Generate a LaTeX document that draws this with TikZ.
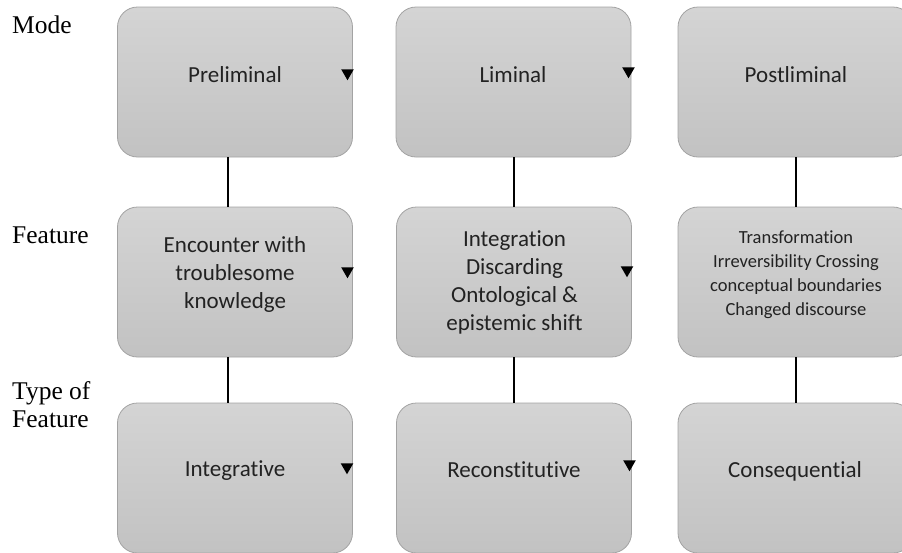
\documentclass[tikz,border=0pt]{standalone}
\usepackage{fontspec}
\setmainfont{Liberation Serif}
\newfontfamily\boxfont[Ligatures={NoCommon}]{Carlito}
\usetikzlibrary{shapes.geometric}
\definecolor{boxtop}{HTML}{D4D4D4}
\definecolor{boxbot}{HTML}{C2C2C2}
\definecolor{boxborder}{HTML}{A3A3A3}
\definecolor{boxtext}{HTML}{222222}
\begin{document}
\begin{tikzpicture}[x=1pt,y=-1pt,
  box/.style={draw=boxborder, line width=0.8pt, rounded corners=20pt,
    top color=boxtop, bottom color=boxbot,
    minimum width=235pt, minimum height=150pt, inner sep=0pt, outer sep=0pt},
  btext/.style={font=\boxfont\fontsize{23}{28}\selectfont, text=boxtext, inner sep=0pt, align=center},
  stext/.style={font=\boxfont\fontsize{18.5}{24}\selectfont, text=boxtext, inner sep=0pt, align=center},
  lbl/.style={font=\fontsize{25.5}{28}\selectfont, text=black, inner sep=0pt, anchor=base west, align=left},
  tri/.style={regular polygon, regular polygon sides=3, shape border rotate=180,
    fill=black, inner sep=0pt, minimum size=14.5pt},
  conn/.style={draw=black, line width=2.2pt}]
\useasboundingbox (0,0) rectangle (902,552);

% boxes
\node[box] (b11) at (235,82) {};
\node[box] (b12) at (513.5,82) {};
\node[box] (b13) at (795.5,82) {};
\node[box] (b21) at (235,282) {};
\node[box] (b22) at (514,282) {};
\node[box] (b23) at (795.5,282) {};
\node[box] (b31) at (235,478) {};
\node[box] (b32) at (514,478) {};
\node[box] (b33) at (795.5,478) {};

% texts
\node[btext, anchor=base] (x11) at (235,82) {Preliminal};
\node[btext, anchor=base] (x12) at (513,82) {Liminal};
\node[btext, anchor=base] (x13) at (796,82) {Postliminal};
\node[btext] (x21) at (235,274) {Encounter with\\troublesome\\knowledge};
\node[btext] (x22) at (514.5,282) {Integration\\Discarding\\Ontological \&\\epistemic shift};
\node[stext] (x23) at (796,275) {Transformation\\Irreversibility Crossing\\conceptual boundaries\\Changed discourse};
\node[btext, anchor=base] (x31) at (235,476) {Integrative};
\node[btext, anchor=base] (x32) at (514,477) {Reconstitutive};
\node[btext, anchor=base] (x33) at (795,477) {Consequential};

% triangles
\node[tri] (t11) at (347.5,73) {};
\node[tri] (t12) at (628.5,71) {};
\node[tri] (t21) at (347.5,271) {};
\node[tri] (t22) at (627,270) {};
\node[tri] (t31) at (347,467) {};
\node[tri] (t32) at (629.5,464) {};

% connectors
\coordinate (c1) at (228,0);
\coordinate (c2) at (514,0);
\coordinate (c3) at (796,0);
\draw[conn] (b11.south -| c1) -- (b21.north -| c1);
\draw[conn] (b21.south -| c1) -- (b31.north -| c1);
\draw[conn] (b12.south -| c2) -- (b22.north -| c2);
\draw[conn] (b22.south -| c2) -- (b32.north -| c2);
\draw[conn] (b13.south -| c3) -- (b23.north -| c3);
\draw[conn] (b23.south -| c3) -- (b33.north -| c3);

% row labels
\node[lbl] (m) at (12,33) {Mode};
\node[lbl] (f) at (12,243) {Feature};
\node[lbl] (tf) at (12,427) {Type of\\Feature};
\end{tikzpicture}
\end{document}
